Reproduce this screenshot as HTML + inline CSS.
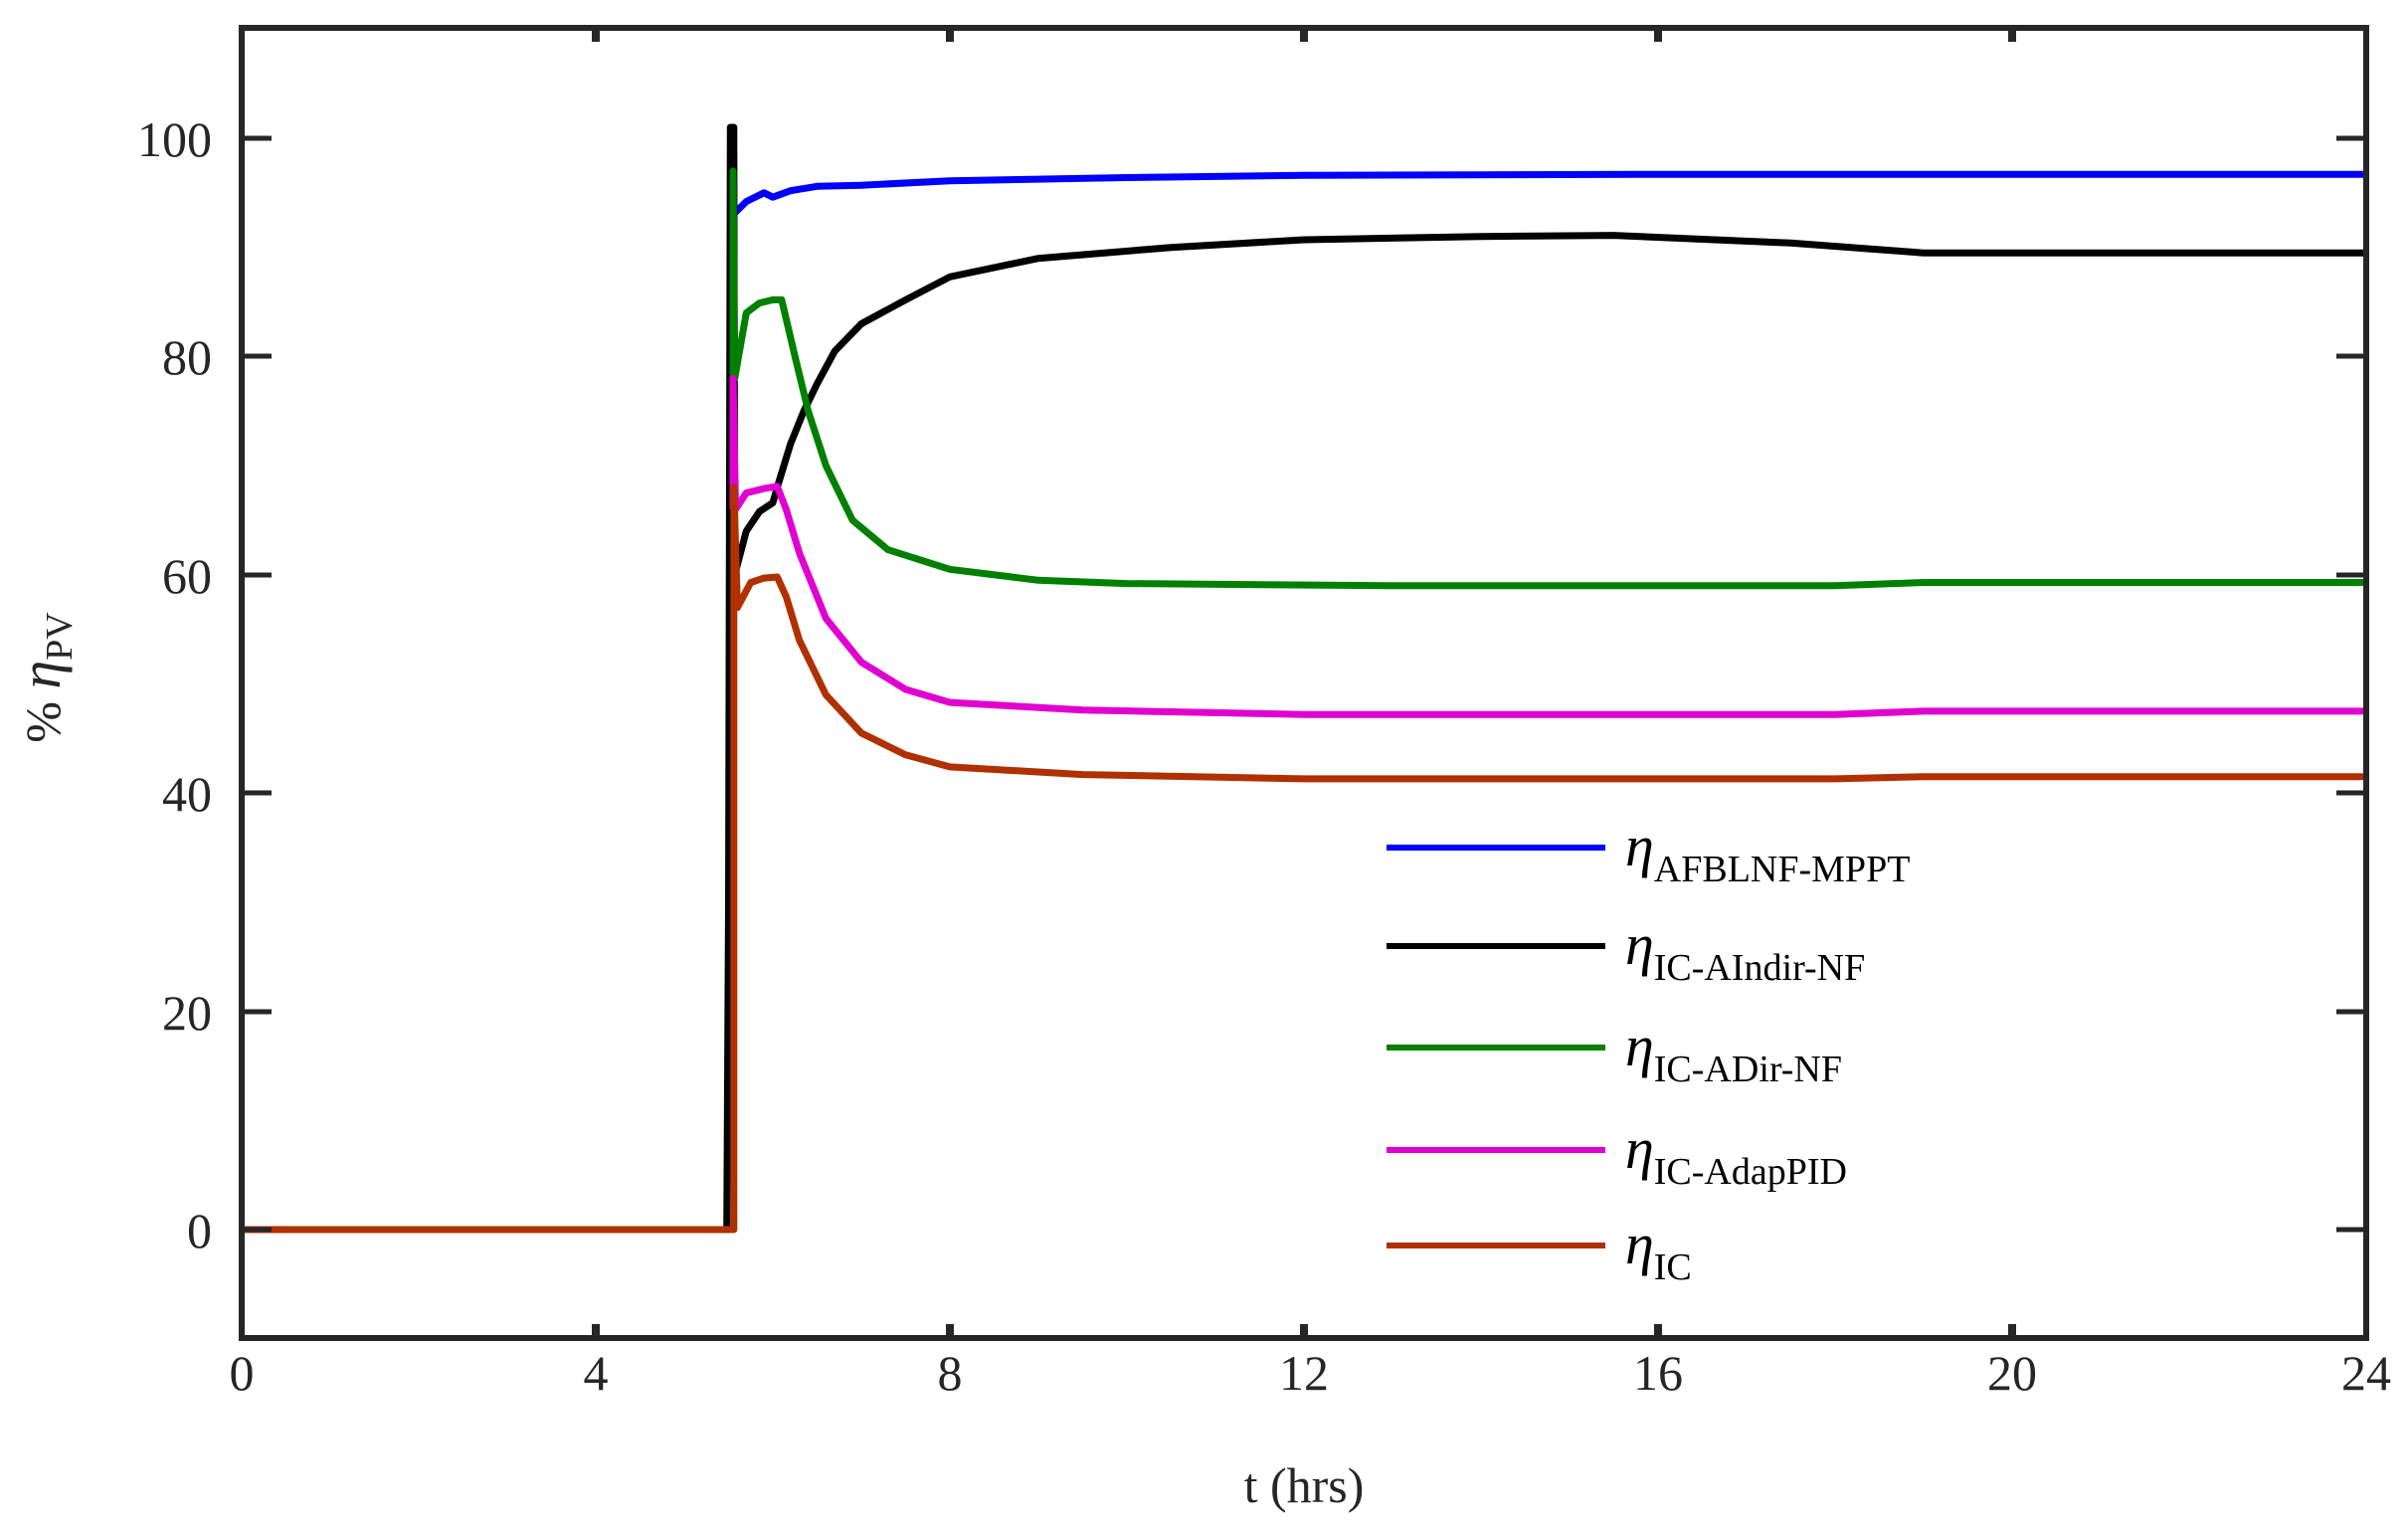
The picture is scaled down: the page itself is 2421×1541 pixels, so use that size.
<!DOCTYPE html>
<html><head><meta charset="utf-8"><style>
html,body{margin:0;padding:0;background:#fff;}
svg{display:block;}
text{font-family:"Liberation Serif",serif;fill:#262626;}
</style></head><body>
<svg id="s" width="2421" height="1541" viewBox="0 0 2421 1541" xmlns="http://www.w3.org/2000/svg">
<rect width="2421" height="1541" fill="#fff"/>
<g id="curves" fill="none" stroke-linejoin="round" stroke-width="7"></g>
<g stroke="#262626" fill="none">
<rect x="243" y="28" width="2136" height="1317" stroke-width="6"/>
<g stroke-width="5">
<path d="M243,1236h30M243,1017h30M243,797h30M243,578h30M243,358h30M243,139h30"/>
<path d="M2379,1236h-30M2379,1017h-30M2379,797h-30M2379,578h-30M2379,358h-30M2379,139h-30"/>
</g>
<g stroke-width="8">
<path d="M599,1345v-14M955,1345v-14M1311,1345v-14M1667,1345v-14M2023,1345v-14"/>
<path d="M599,28v14M955,28v14M1311,28v14M1667,28v14M2023,28v14"/>
</g>
</g>
<g font-size="50" text-anchor="end">
<text x="213" y="1254">0</text><text x="213" y="1035">20</text><text x="213" y="815">40</text>
<text x="213" y="596">60</text><text x="213" y="376">80</text><text x="213" y="157">100</text>
</g>
<g font-size="50" text-anchor="middle">
<text x="243" y="1397">0</text><text x="599" y="1397">4</text><text x="955" y="1397">8</text>
<text x="1311" y="1397">12</text><text x="1667" y="1397">16</text><text x="2023" y="1397">20</text><text x="2379" y="1397">24</text>
<text x="1311" y="1510">t (hrs)</text>
</g>
<text transform="translate(60,681) rotate(-90)" font-size="50" text-anchor="middle">% <tspan font-style="italic" font-size="58">η</tspan><tspan font-size="38" dy="12">PV</tspan></text>
<g stroke-width="6" fill="none">
<path d="M1394,852h220" stroke="#0000ff"/>
<path d="M1394,951h220" stroke="#000"/>
<path d="M1394,1053h220" stroke="#008000"/>
<path d="M1394,1156h220" stroke="#e000d0"/>
<path d="M1394,1252h220" stroke="#b03000"/>
</g>
<g font-size="38">
<text x="1634" y="870" style="fill:#000"><tspan font-style="italic" font-size="58">η</tspan><tspan dy="16">AFBLNF-MPPT</tspan></text>
<text x="1634" y="969" style="fill:#000"><tspan font-style="italic" font-size="58">η</tspan><tspan dy="16">IC-AIndir-NF</tspan></text>
<text x="1634" y="1071" style="fill:#000"><tspan font-style="italic" font-size="58">η</tspan><tspan dy="16">IC-ADir-NF</tspan></text>
<text x="1634" y="1174" style="fill:#000"><tspan font-style="italic" font-size="58">η</tspan><tspan dy="16">IC-AdapPID</tspan></text>
<text x="1634" y="1270" style="fill:#000"><tspan font-style="italic" font-size="58">η</tspan><tspan dy="16">IC</tspan></text>
</g>
</svg>
<script>
var X=function(t){return 243+t*89;},Y=function(v){return 1236-v*10.97;};
var S=[
["#0000ff",[[5.55,93],[5.7,94.2],[5.9,95],[6.0,94.6],[6.2,95.2],[6.5,95.6],[7,95.7],[8,96.1],[10,96.4],[12,96.6],[16,96.7],[24,96.7]]],
["#000000",[[0,0],[5.48,0],[5.5,30],[5.52,101],[5.56,101],[5.57,60],[5.7,64],[5.85,65.8],[6.0,66.6],[6.05,68],[6.2,72],[6.35,75],[6.5,77.5],[6.7,80.5],[7.0,83],[7.5,85.2],[8,87.3],[9,89],[10.5,90],[12,90.7],[14,91],[15.5,91.1],[17.5,90.4],[19,89.5],[24,89.5]]],
["#008000",[[5.55,78],[5.55,97],[5.57,78],[5.7,84],[5.85,84.9],[6.0,85.2],[6.1,85.2],[6.25,80],[6.4,75],[6.6,70],[6.9,65],[7.3,62.3],[8,60.5],[9,59.5],[10,59.2],[13,59],[18,59],[19,59.3],[24,59.3]]],
["#e000d0",[[5.55,66],[5.55,78],[5.58,66],[5.7,67.5],[5.9,67.9],[6.05,68.1],[6.15,66],[6.3,62],[6.6,56],[7.0,52],[7.5,49.5],[8,48.3],[9.5,47.6],[12,47.2],[18,47.2],[19,47.5],[24,47.5]]],
["#b03000",[[0,0],[5.56,0],[5.56,68],[5.6,57],[5.75,59.3],[5.9,59.7],[6.05,59.8],[6.15,58],[6.3,54],[6.6,49],[7.0,45.5],[7.5,43.5],[8,42.4],[9.5,41.7],[12,41.3],[18,41.3],[19,41.5],[24,41.5]]]];
var g=document.getElementById("curves"),h="";
S.forEach(function(s){var d=s[1].map(function(p,i){return (i?"L":"M")+X(p[0]).toFixed(1)+","+Y(p[1]).toFixed(1);}).join(" ");
h+='<path stroke="'+s[0]+'" d="'+d+'"/>';});
g.innerHTML=h;
</script>
</body></html>
